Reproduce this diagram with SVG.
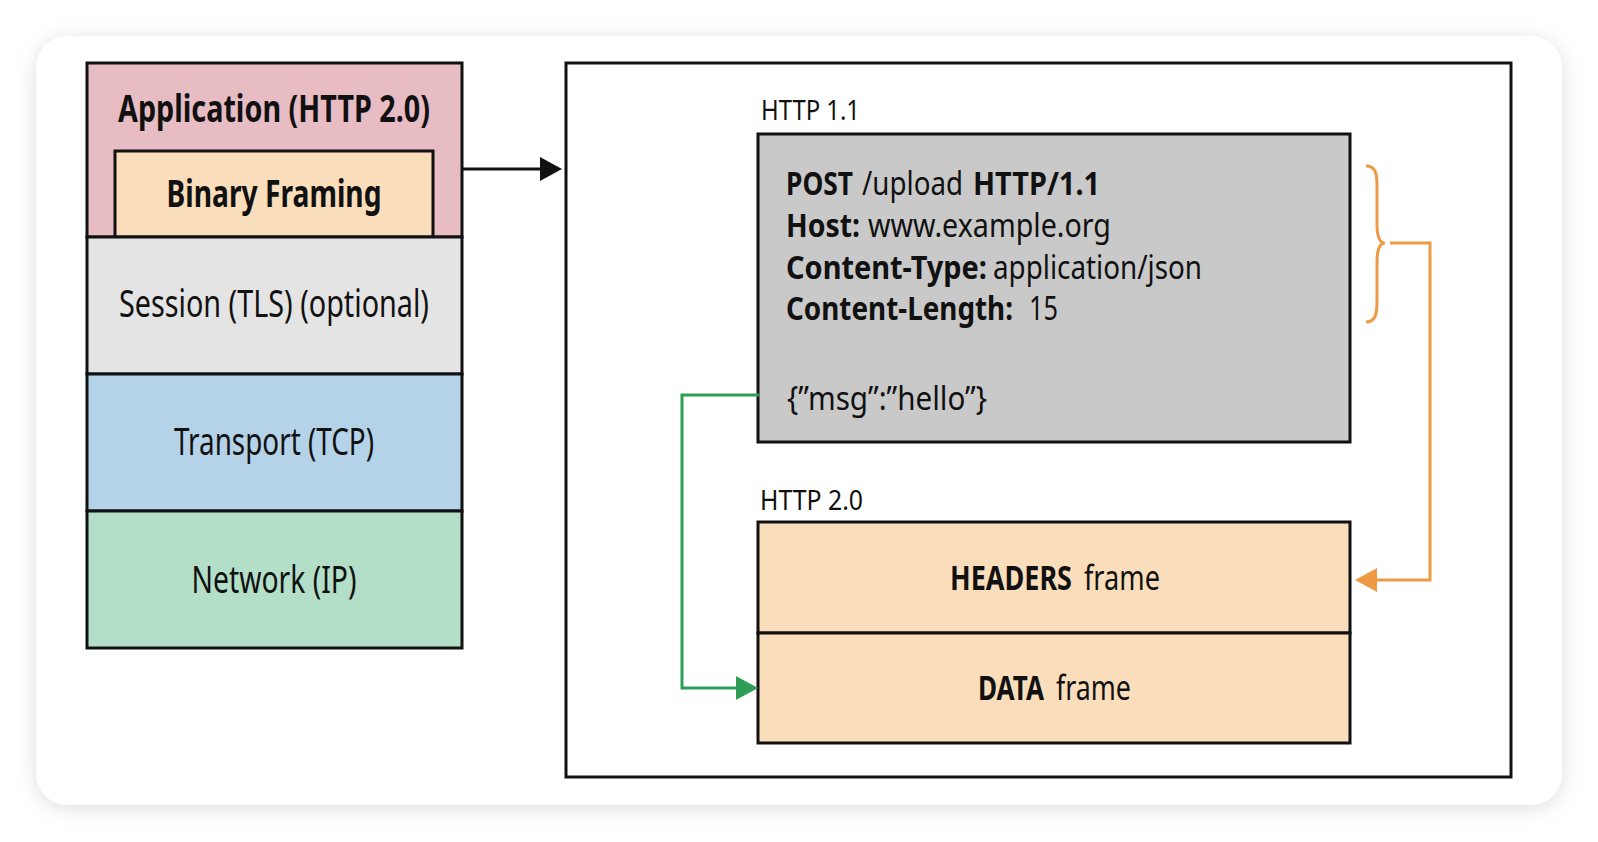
<svg xmlns="http://www.w3.org/2000/svg" width="1598" height="842" viewBox="0 0 1598 842">
<style>
  text { font-family: "Noto Sans", "Liberation Sans", Arial, sans-serif; fill: #111; }
  .b { font-weight: bold; }
  .r { font-weight: normal; }
  .box { stroke: #111; stroke-width: 3; }
  .lbl { font-size: 27px; }
  .stack { font-size: 38px; text-anchor: middle; }
  .code { font-size: 33px; }
  .frm { font-size: 34px; }
  .conn { fill: none; stroke-width: 3; }
</style>
<defs>
  <filter id="shadow" x="-5%" y="-5%" width="110%" height="112%">
    <feDropShadow dx="0" dy="3" stdDeviation="10" flood-color="#000" flood-opacity="0.13"/>
  </filter>
  <marker id="arrBlack" viewBox="0 0 22 24" refX="0" refY="12" markerWidth="22" markerHeight="24" markerUnits="userSpaceOnUse" orient="auto">
    <path d="M0,0 L22,12 L0,24 Z" fill="#111"/>
  </marker>
  <marker id="arrGreen" viewBox="0 0 22 24" refX="0" refY="12" markerWidth="22" markerHeight="24" markerUnits="userSpaceOnUse" orient="auto">
    <path d="M0,0 L22,12 L0,24 Z" fill="#2E9E57"/>
  </marker>
  <marker id="arrOrange" viewBox="0 0 22 24" refX="0" refY="12" markerWidth="22" markerHeight="24" markerUnits="userSpaceOnUse" orient="auto">
    <path d="M0,0 L22,12 L0,24 Z" fill="#EE9A45"/>
  </marker>
</defs>

<rect width="1598" height="842" fill="#ffffff"/>
<rect id="card" x="36" y="36" width="1526" height="769" rx="32" fill="#ffffff" filter="url(#shadow)"/>

<!-- Left protocol stack -->
<g id="application">
  <rect class="box" x="87" y="63" width="375" height="174" fill="#E8BCC3"/>
  <text class="stack b" x="274" y="122" textLength="312" lengthAdjust="spacingAndGlyphs">Application (HTTP 2.0)</text>
</g>
<g id="binary-framing">
  <rect class="box" x="115" y="151" width="318" height="86" fill="#FADDBB"/>
  <text class="stack b" x="274" y="207" textLength="215" lengthAdjust="spacingAndGlyphs">Binary Framing</text>
</g>
<g id="session">
  <rect class="box" x="87" y="237" width="375" height="137" fill="#E4E4E4"/>
  <text class="stack r" x="274" y="317" textLength="310" lengthAdjust="spacingAndGlyphs">Session (TLS) (optional)</text>
</g>
<g id="transport">
  <rect class="box" x="87" y="374" width="375" height="137" fill="#B4D3E8"/>
  <text class="stack r" x="274" y="455" textLength="200" lengthAdjust="spacingAndGlyphs">Transport (TCP)</text>
</g>
<g id="network">
  <rect class="box" x="87" y="511" width="375" height="137" fill="#B3DEC8"/>
  <text class="stack r" x="274" y="593" textLength="165" lengthAdjust="spacingAndGlyphs">Network (IP)</text>
</g>

<!-- Right panel -->
<g id="panel">
  <rect class="box" x="566" y="63" width="945" height="714" fill="#ffffff"/>
</g>

<g id="http11">
  <text class="lbl r" x="761" y="120" textLength="99" lengthAdjust="spacingAndGlyphs">HTTP 1.1</text>
  <rect class="box" x="758" y="134" width="592" height="308" fill="#C9C9C9"/>
  <text class="code b" x="786" y="195" textLength="67" lengthAdjust="spacingAndGlyphs">POST</text>
  <text class="code r" x="862" y="195" textLength="101" lengthAdjust="spacingAndGlyphs">/upload</text>
  <text class="code b" x="973" y="195" textLength="127" lengthAdjust="spacingAndGlyphs">HTTP/1.1</text>
  <text class="code b" x="786" y="237" textLength="74" lengthAdjust="spacingAndGlyphs">Host:</text>
  <text class="code r" x="868" y="237" textLength="243" lengthAdjust="spacingAndGlyphs">www.example.org</text>
  <text class="code b" x="786" y="279" textLength="201" lengthAdjust="spacingAndGlyphs">Content-Type:</text>
  <text class="code r" x="993" y="279" textLength="209" lengthAdjust="spacingAndGlyphs">application/json</text>
  <text class="code b" x="786" y="320" textLength="227" lengthAdjust="spacingAndGlyphs">Content-Length:</text>
  <text class="code r" x="1029" y="320" textLength="29" lengthAdjust="spacingAndGlyphs">15</text>
  <text class="code r" x="787" y="410" textLength="200" lengthAdjust="spacingAndGlyphs">{”msg”:”hello”}</text>
</g>

<g id="http20">
  <text class="lbl r" x="760" y="510" textLength="103" lengthAdjust="spacingAndGlyphs">HTTP 2.0</text>
  <rect class="box" x="758" y="522" width="592" height="111" fill="#FADDBB"/>
  <rect class="box" x="758" y="633" width="592" height="110" fill="#FADDBB"/>
  <text class="frm b" x="950" y="590" textLength="122" lengthAdjust="spacingAndGlyphs">HEADERS</text>
  <text class="frm r" x="1084" y="590" textLength="76" lengthAdjust="spacingAndGlyphs">frame</text>
  <text class="frm b" x="978" y="700" textLength="66" lengthAdjust="spacingAndGlyphs">DATA</text>
  <text class="frm r" x="1056" y="700" textLength="75" lengthAdjust="spacingAndGlyphs">frame</text>
</g>

<!-- Connectors -->
<g id="connectors">
  <path class="conn" d="M463,169 H540" stroke="#111" marker-end="url(#arrBlack)"/>
  <path class="conn" d="M1366,166 C1375,166 1377,172 1377,186 L1377,224 C1377,237 1380,243 1385,243 C1380,243 1377,249 1377,262 L1377,301 C1377,315 1375,322 1366,322" stroke="#EE9A45"/>
  <path class="conn" d="M1390,243 H1430 V580 H1377" stroke="#EE9A45" marker-end="url(#arrOrange)"/>
  <path class="conn" d="M759,395 H682 V688 H736" stroke="#2E9E57" marker-end="url(#arrGreen)"/>
</g>
</svg>
